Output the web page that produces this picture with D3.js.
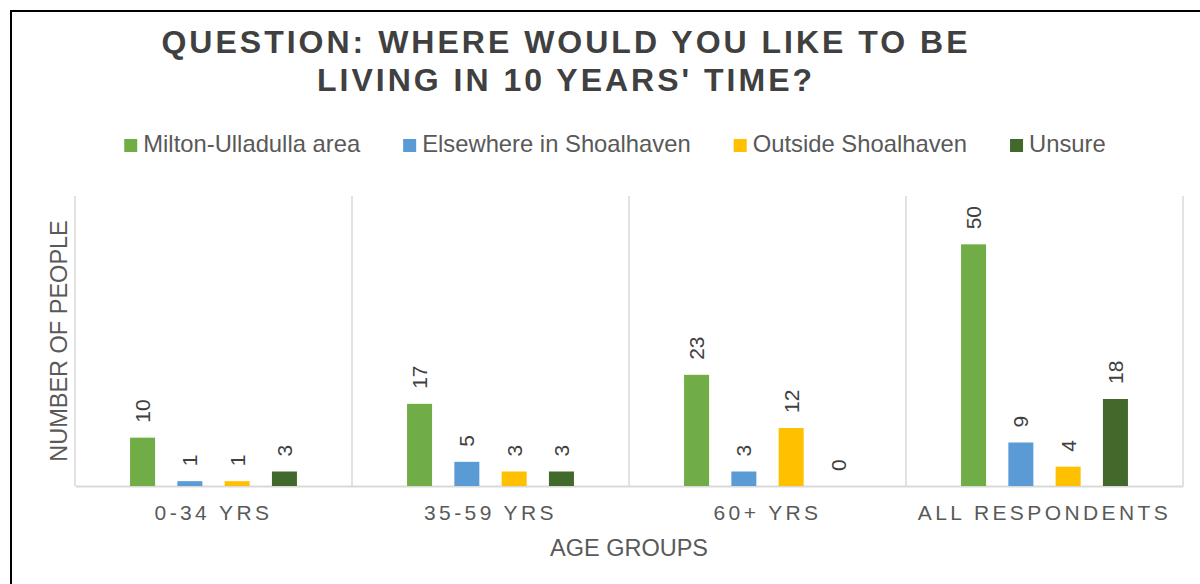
<!DOCTYPE html>
<html>
<head>
<meta charset="utf-8">
<script src="https://cdn.jsdelivr.net/npm/d3@7"></script>
<style>
  html, body { margin: 0; padding: 0; background: #fff; }
  svg { display: block; font-family: "Liberation Sans", Arial, sans-serif; }
</style>
</head>
<body>
<div id="chart"></div>
<script>
// Where respondents would like to be living in 10 years, grouped bars by age group
const TITLE_LINES = ["QUESTION: WHERE WOULD YOU LIKE TO BE", "LIVING IN 10 YEARS' TIME?"];
const CATEGORIES = ["0-34 YRS", "35-59 YRS", "60+ YRS", "ALL RESPONDENTS"];
const SERIES = ["Milton-Ulladulla area", "Elsewhere in Shoalhaven", "Outside Shoalhaven", "Unsure"];
const COLORS = ["#70AD47", "#5B9BD5", "#FFC000", "#43682B"];
const MILTON = [10, 17, 23, 50];
const ELSEWHERE = [1, 5, 3, 9];
const OUTSIDE = [1, 3, 12, 4];
const UNSURE = [3, 3, 0, 18];
const Y_MAX = 60;

(function () {
  const width = 1200;
  const height = 584;
  const margin = { top: 196, right: 17, bottom: 98, left: 75 };
  const innerWidth = width - margin.left - margin.right;
  const innerHeight = height - margin.top - margin.bottom;

  const seriesValues = [MILTON, ELSEWHERE, OUTSIDE, UNSURE];
  const rows = CATEGORIES.map((cat, i) => ({
    cat,
    values: SERIES.map((s, j) => ({ series: s, idx: j, value: seriesValues[j][i] })),
  }));

  const svg = d3.select("#chart").append("svg").attr("width", width).attr("height", height);

  // outer frame (runs off the right and bottom of the picture)
  svg.append("rect")
    .attr("x", 11).attr("y", 11)
    .attr("width", 1400).attr("height", 800)
    .attr("fill", "none").attr("stroke", "#000").attr("stroke-width", 2);

  // title
  svg.append("text")
    .attr("x", 566)
    .attr("text-anchor", "middle")
    .attr("fill", "#404040")
    .attr("font-size", 32)
    .attr("font-weight", "bold")
    .attr("letter-spacing", 3)
    .selectAll("tspan")
    .data(TITLE_LINES)
    .join("tspan")
    .attr("x", 566)
    .attr("y", (d, i) => 53 + i * 38)
    .text((d) => d);

  // legend
  const legend = svg.append("g").attr("class", "legend");
  const items = legend.selectAll("g").data(SERIES).join("g");
  items.append("rect")
    .attr("width", 13).attr("height", 13)
    .attr("y", -13)
    .attr("fill", (d, i) => COLORS[i]);
  items.append("text")
    .attr("x", 19)
    .attr("font-size", 23.8)
    .attr("fill", "#595959")
    .text((d) => d);
  let lx = 0;
  items.each(function () {
    const w = this.querySelector("text").getComputedTextLength();
    d3.select(this).attr("transform", `translate(${lx},0)`);
    lx += 19 + w + 43;
  });
  const legendWidth = lx - 43;
  legend.attr("transform", `translate(${615 - legendWidth / 2},152)`);

  const g = svg.append("g").attr("transform", `translate(${margin.left},${margin.top})`);

  const x0 = d3.scaleBand().domain(CATEGORIES).range([0, innerWidth]).paddingInner(0).paddingOuter(0);
  const x1 = d3.scaleBand().domain(SERIES).range([0, x0.bandwidth()]).paddingInner(0.471).paddingOuter(1.164);
  const y = d3.scaleLinear().domain([0, Y_MAX]).range([innerHeight, 0]);

  // category separators
  g.selectAll("line.sep")
    .data(d3.range(CATEGORIES.length + 1))
    .join("line")
    .attr("class", "sep")
    .attr("x1", (i) => i * x0.step())
    .attr("x2", (i) => i * x0.step())
    .attr("y1", 0)
    .attr("y2", innerHeight)
    .attr("stroke", "#D9D9D9")
    .attr("stroke-width", 1.5);

  // x axis
  const xAxis = g.append("g")
    .attr("transform", `translate(0,${innerHeight})`)
    .call(d3.axisBottom(x0).tickSize(0).tickPadding(0));
  xAxis.select(".domain").attr("stroke", "#D9D9D9").attr("stroke-width", 2);
  xAxis.selectAll(".tick text")
    .attr("y", 34)
    .attr("dy", 0)
    .attr("font-size", 21)
    .attr("letter-spacing", 3.4)
    .attr("fill", "#595959")
    .attr("font-family", "'Liberation Sans', Arial, sans-serif");

  // bars
  const groups = g.selectAll("g.grp")
    .data(rows)
    .join("g")
    .attr("class", "grp")
    .attr("transform", (d) => `translate(${x0(d.cat)},0)`);

  groups.selectAll("rect")
    .data((d) => d.values)
    .join("rect")
    .attr("x", (d) => x1(d.series))
    .attr("y", (d) => y(d.value))
    .attr("width", x1.bandwidth())
    .attr("height", (d) => y(0) - y(d.value))
    .attr("fill", (d) => COLORS[d.idx]);

  groups.selectAll("text.val")
    .data((d) => d.values)
    .join("text")
    .attr("class", "val")
    .attr("transform", (d) => `translate(${x1(d.series) + x1.bandwidth() / 2},${y(d.value) - 15}) rotate(-90)`)
    .attr("dy", "0.35em")
    .attr("text-anchor", "start")
    .attr("font-size", 21)
    .attr("fill", "#404040")
    .text((d) => d.value);

  // axis titles
  svg.append("text")
    .attr("transform", `translate(67,${margin.top + innerHeight / 2}) rotate(-90)`)
    .attr("text-anchor", "middle")
    .attr("font-size", 23.5)
    .attr("fill", "#595959")
    .text("NUMBER OF PEOPLE");

  svg.append("text")
    .attr("x", margin.left + innerWidth / 2)
    .attr("y", 556)
    .attr("text-anchor", "middle")
    .attr("font-size", 23.5)
    .attr("fill", "#595959")
    .text("AGE GROUPS");
})();
</script>
</body>
</html>
